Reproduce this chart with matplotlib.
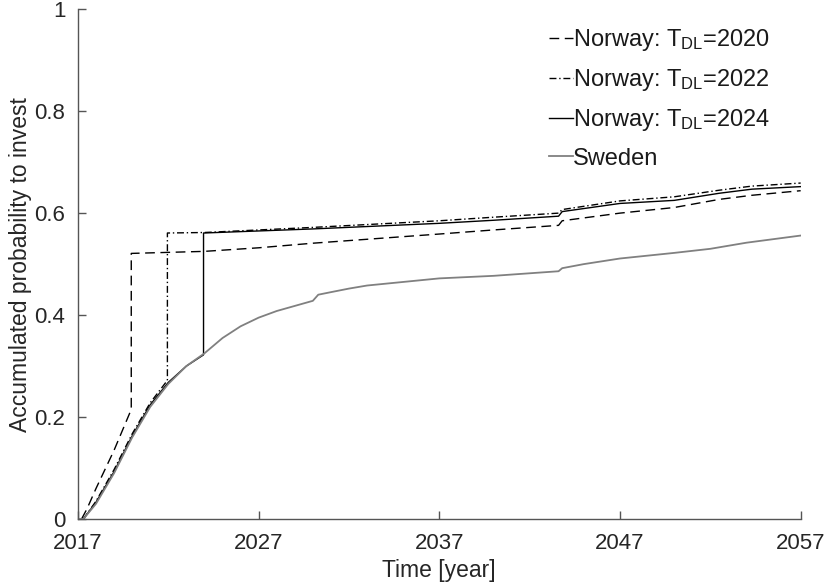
import matplotlib
matplotlib.use("Agg")
import matplotlib.pyplot as plt

plt.rcParams['font.family'] = ['Liberation Sans', 'DejaVu Sans']
plt.rcParams['mathtext.fontset'] = 'custom'
plt.rcParams['mathtext.rm'] = 'Liberation Sans'
plt.rcParams['mathtext.it'] = 'Liberation Sans'

# Sweden: accumulated probability to invest
t_swe = [2017.0, 2017.3, 2018, 2019, 2020, 2021, 2022, 2023, 2024, 2025, 2026,
         2027, 2028, 2029, 2030, 2030.3, 2031, 2032, 2033, 2035, 2037, 2040,
         2043.6, 2043.8, 2045, 2047, 2050, 2052, 2054, 2057]
p_swe = [0.0, 0.0, 0.03, 0.09, 0.16, 0.22, 0.265, 0.30, 0.325, 0.355, 0.378,
         0.395, 0.408, 0.418, 0.428, 0.44, 0.445, 0.452, 0.458, 0.465, 0.472, 0.477,
         0.486, 0.492, 0.50, 0.511, 0.522, 0.530, 0.542, 0.556]

# Norway, deadline 2020
t_n20 = [2017.2, 2017.5, 2018, 2019, 2019.95, 2019.95, 2024, 2027, 2030, 2037, 2040,
         2043.6, 2043.8, 2047, 2050, 2052.5, 2054.3, 2057]
p_n20 = [0.0, 0.02, 0.06, 0.135, 0.215, 0.521, 0.525, 0.532, 0.541, 0.559, 0.567,
         0.576, 0.585, 0.600, 0.611, 0.627, 0.635, 0.644]

# Norway, deadline 2022
t_n22 = [2017.3, 2018, 2019, 2020, 2021, 2021.95, 2021.95, 2024, 2030, 2037, 2040,
         2043.6, 2043.8, 2047, 2050, 2052.5, 2054.3, 2057]
p_n22 = [0.0, 0.035, 0.097, 0.167, 0.228, 0.272, 0.561, 0.562, 0.572, 0.585, 0.592,
         0.600, 0.607, 0.624, 0.632, 0.645, 0.653, 0.659]

# Norway, deadline 2024
t_n24 = [2017.3, 2018, 2019, 2020, 2021, 2022, 2023, 2023.95, 2023.95, 2030, 2037,
         2040, 2043.6, 2043.8, 2047, 2050, 2052.5, 2054.3, 2057]
p_n24 = [0.0, 0.033, 0.093, 0.163, 0.224, 0.268, 0.300, 0.322, 0.561, 0.569, 0.580,
         0.586, 0.594, 0.603, 0.619, 0.625, 0.639, 0.647, 0.652]

fig = plt.figure(figsize=(8.25, 5.86), dpi=100)
ax = fig.add_axes([0.0945, 0.1143, 0.876, 0.870])

ax.plot(t_n20, p_n20, color='black', lw=1.0, ls=(0, (7, 4)), label=r'Norway: T$_{\rm DL}$=2020')
ax.plot(t_n22, p_n22, color='black', lw=1.0, ls=(0, (5, 2, 1, 2)), label=r'Norway: T$_{\rm DL}$=2022')
ax.plot(t_n24, p_n24, color='black', lw=1.0, label=r'Norway: T$_{\rm DL}$=2024')
ax.plot(t_swe, p_swe, color='#808080', lw=1.3, label='Sweden')

ax.set_xlim(2017, 2057)
ax.set_ylim(0, 1)
ax.set_xticks([2017, 2027, 2037, 2047, 2057])
ax.set_yticks([0, 0.2, 0.4, 0.6, 0.8, 1])
ax.set_yticklabels(['0', '0.2', '0.4', '0.6', '0.8', '1'])

for s in ['top', 'right']:
    ax.spines[s].set_visible(False)
for s in ['left', 'bottom']:
    ax.spines[s].set_color('#555555')
    ax.spines[s].set_linewidth(1.0)
ax.tick_params(direction='in', length=6, width=1.0, color='#555555',
               labelsize=16, labelcolor='#262626')
ax.tick_params(axis='x', pad=10)
ax.tick_params(axis='y', pad=9)

ax.set_xlabel('Time [year]', fontsize=16.5, color='#262626')
ax.set_ylabel('Accumulated probability to invest', fontsize=16.5, color='#262626')
ax.xaxis.set_label_coords(0.5, -0.078)
ax.yaxis.set_label_coords(-0.064, 0.5)

leg = ax.legend(loc='upper left', bbox_to_anchor=(0.652, 0.965), frameon=False,
                fontsize=17, handlelength=1.0, handletextpad=0.02,
                labelspacing=0.6, borderaxespad=0.0, borderpad=0.0)
for txt in leg.get_texts():
    txt.set_color('#1a1a1a')

fig.savefig('out.png', dpi=100)
